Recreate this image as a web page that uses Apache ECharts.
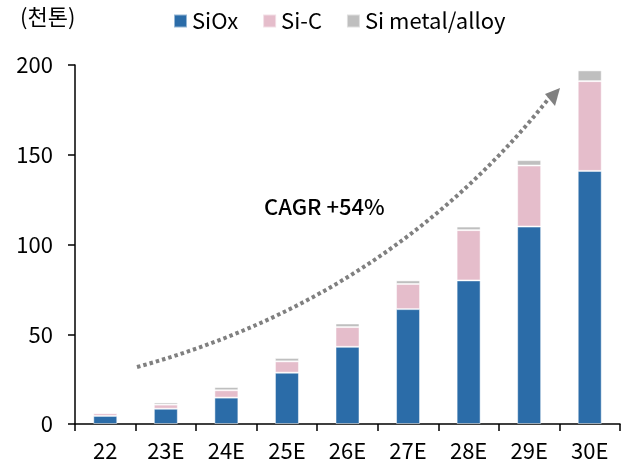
<!DOCTYPE html>
<html>
<head>
<meta charset="utf-8">
<script src="https://cdn.jsdelivr.net/npm/echarts@6/dist/echarts.min.js"></script>
<style>
  html, body { margin: 0; padding: 0; background: #fff; }
  #chart { width: 621px; height: 465px; }
</style>
</head>
<body>
<div id="chart"></div>
<script>
// 데이터
const years = ['22', '23E', '24E', '25E', '26E', '27E', '28E', '29E', '30E']
const siox = [4.5, 8.5, 14.7, 28.6, 43, 64, 80, 110, 141]
const sic = [1.5, 2.3, 4.1, 6.3, 11, 14, 28, 34, 50]
const simetal = [0.5, 1.2, 1.8, 1.9, 2, 2, 2, 3, 6]
const yTicks = [0, 50, 100, 150, 200]

const font = '"Noto Sans CJK KR", "Noto Sans", sans-serif'

const chart = echarts.init(document.getElementById('chart'))

const option = {
  animation: false,
  textStyle: { fontFamily: font },
  color: ['#2B6CA8', '#E5BDCB', '#BFBFBF'],
  grid: { left: 75, right: 1, top: 65, bottom: 41 },
  legend: {
    top: 5,
    left: 168,
    itemWidth: 13,
    itemHeight: 13,
    itemGap: 24,
    icon: 'rect',
    textStyle: { fontSize: 22, color: '#000', fontFamily: font, padding: [0, 0, 0, 0] },
    data: ['SiOx', 'Si-C', 'Si metal/alloy']
  },
  xAxis: {
    type: 'category',
    data: years,
    axisLine: { lineStyle: { color: '#000', width: 1.5 } },
    axisTick: { show: true, length: 7, lineStyle: { color: '#000', width: 1.5 } },
    axisLabel: { fontSize: 22, color: '#000', margin: 16 }
  },
  yAxis: {
    type: 'value',
    min: yTicks[0],
    max: yTicks[yTicks.length - 1],
    interval: 50,
    splitLine: { show: false },
    axisLine: { show: true, lineStyle: { color: '#000', width: 1.5 } },
    axisTick: { show: true, length: 7, lineStyle: { color: '#000', width: 1.5 } },
    axisLabel: { fontSize: 22, color: '#000', margin: 22 }
  },
  series: [
    { name: 'SiOx', type: 'bar', stack: 'a', barWidth: 24, data: siox,
      itemStyle: { borderColor: 'rgba(255,255,255,0.5)', borderWidth: 1 } },
    { name: 'Si-C', type: 'bar', stack: 'a', barWidth: 24, data: sic,
      itemStyle: { borderColor: 'rgba(255,255,255,0.5)', borderWidth: 1 } },
    { name: 'Si metal/alloy', type: 'bar', stack: 'a', barWidth: 24, data: simetal,
      itemStyle: { borderColor: 'rgba(255,255,255,0.5)', borderWidth: 1 } }
  ],
  graphic: [
    {
      type: 'text', left: 20, top: 6,
      style: { text: '(천톤)', fontSize: 22, fill: '#000', fontFamily: font }
    },
    {
      type: 'text', left: 264, top: 196,
      style: { text: 'CAGR +54%', fontSize: 22, fill: '#000', fontFamily: font, fontWeight: 500 }
    },
    // 화살표 곡선
    {
      type: 'bezierCurve',
      shape: { x1: 137, y1: 367, x2: 550, y2: 97, cpx1: 390, cpy1: 298 },
      style: { stroke: '#808080', lineWidth: 4, lineDash: [3.5, 3], fill: null }
    },
    {
      type: 'polygon',
      shape: { points: [[560, 88], [545, 94], [555, 106]] },
      style: { fill: '#808080' }
    }
  ]
}

chart.setOption(option)
</script>
</body>
</html>
